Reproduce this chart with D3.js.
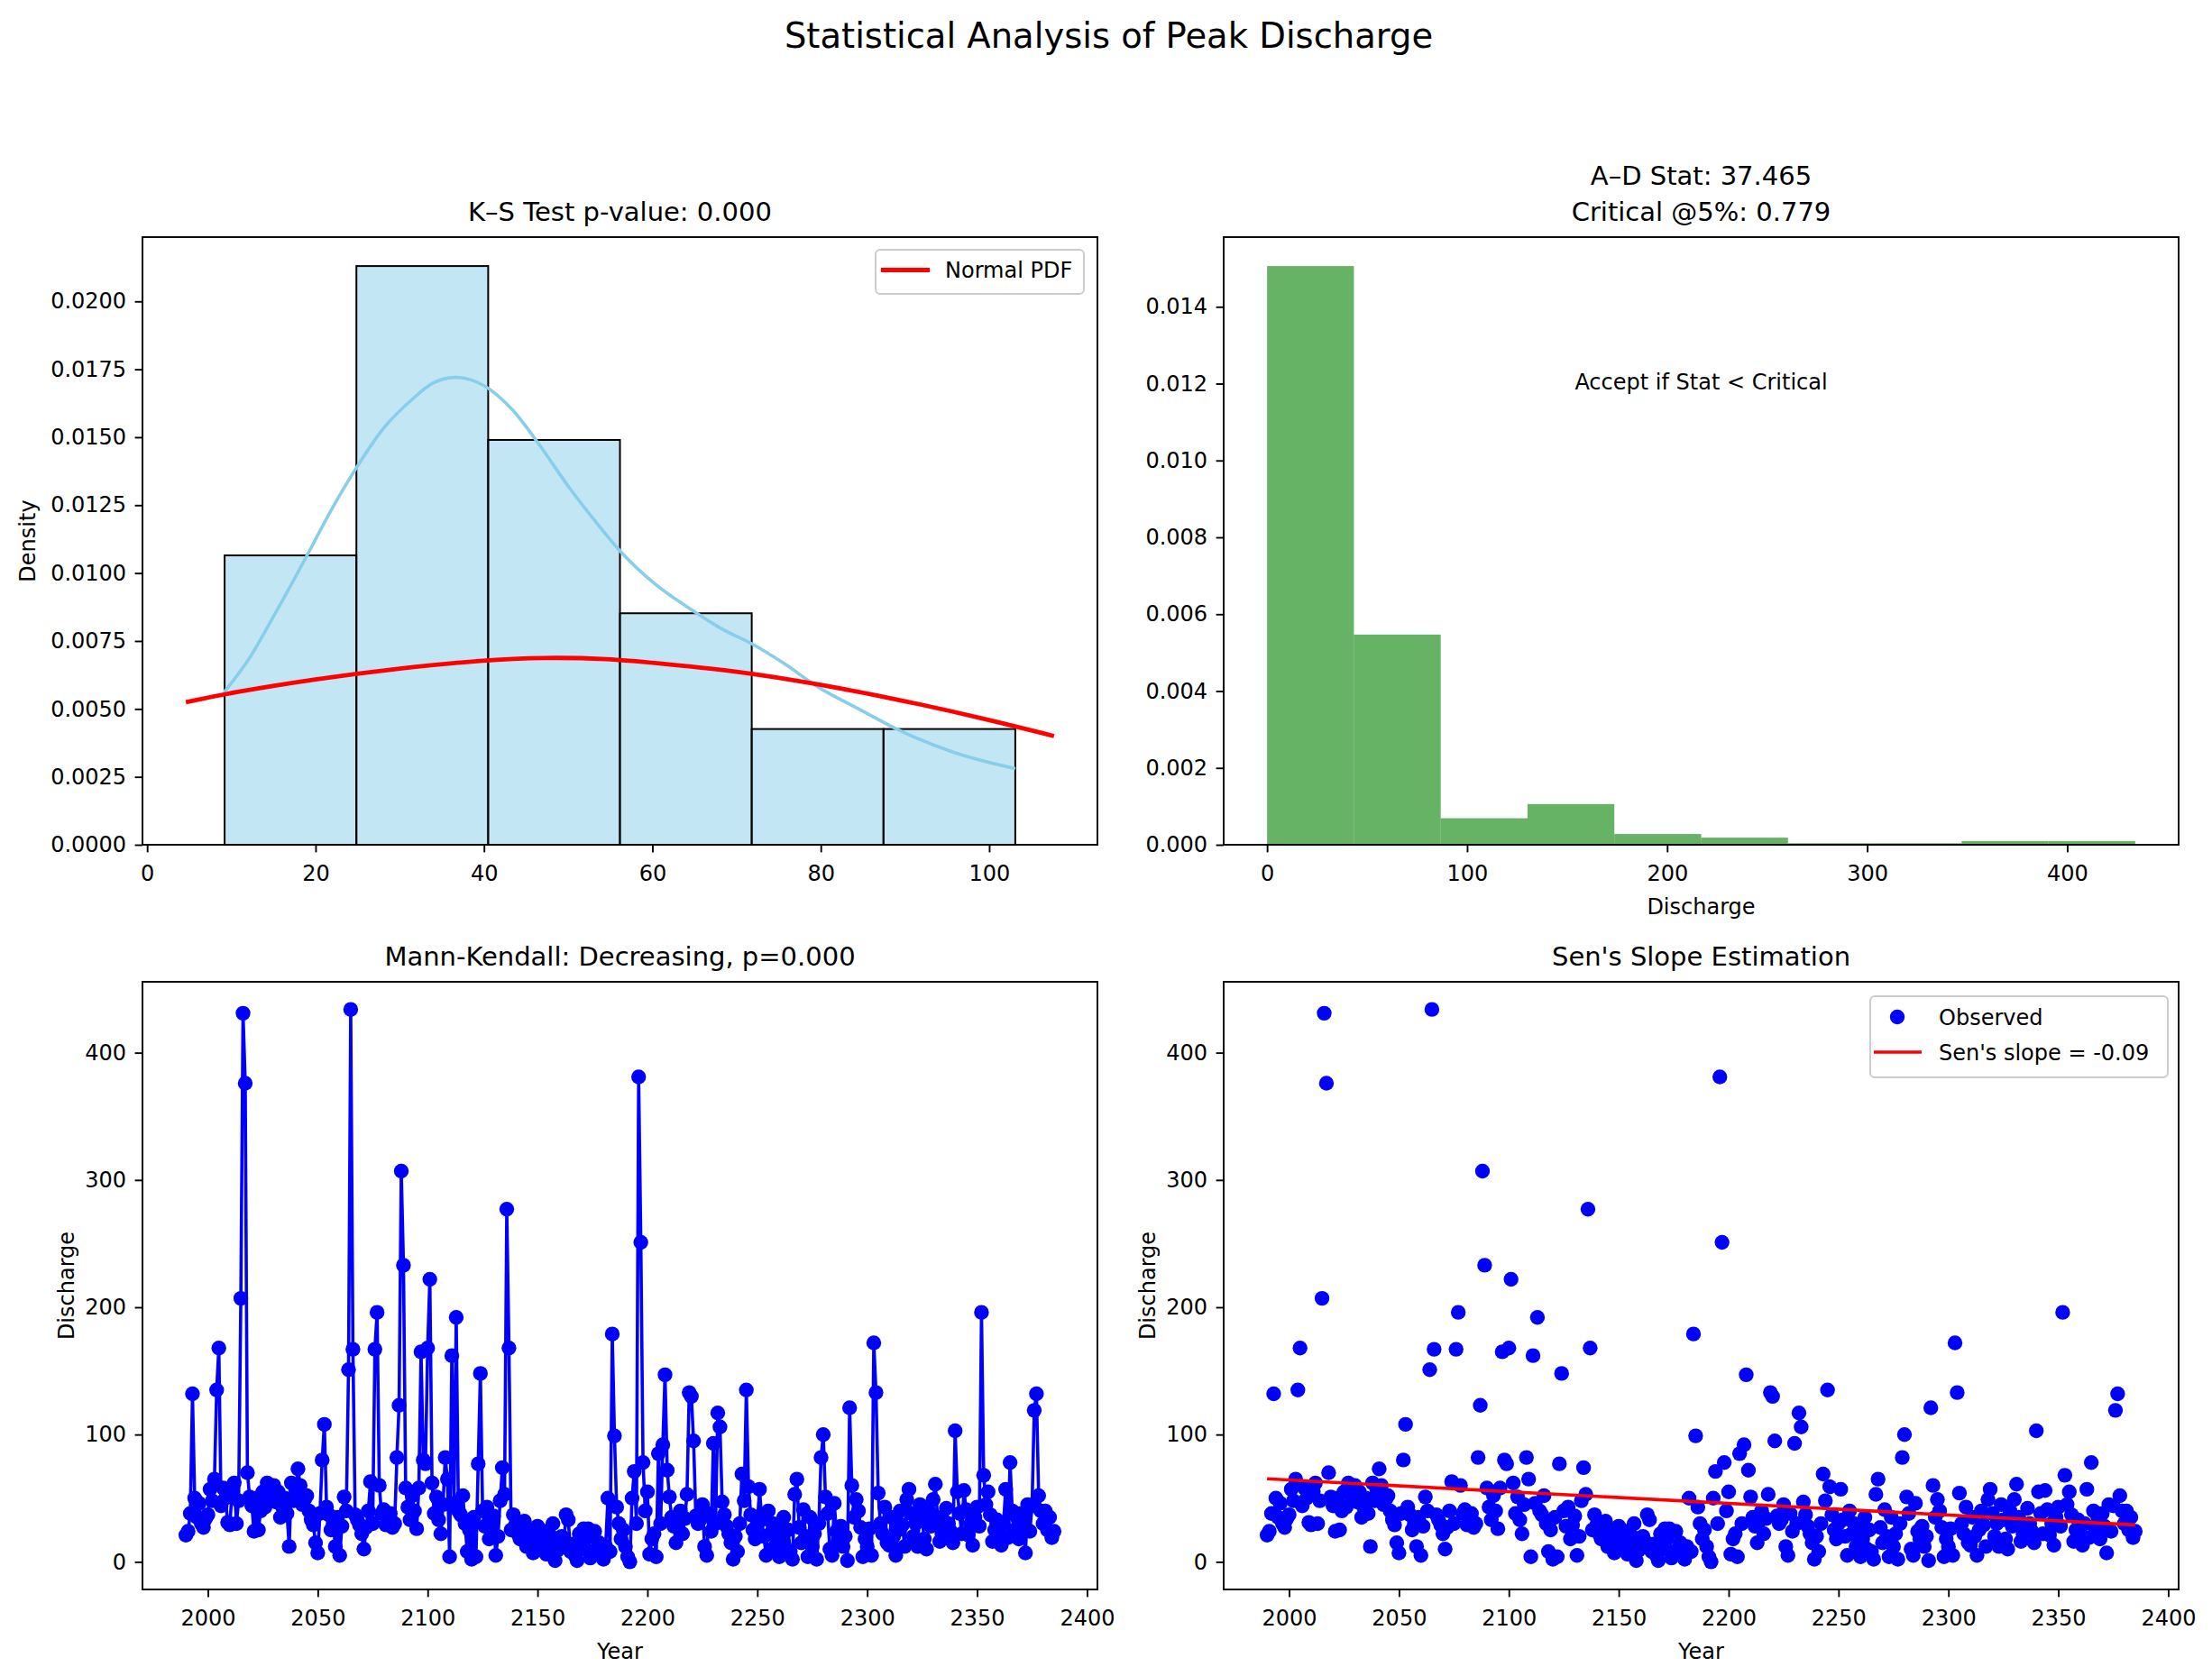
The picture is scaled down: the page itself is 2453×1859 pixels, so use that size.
<!DOCTYPE html>
<html>
<head>
<meta charset="utf-8">
<script src="https://cdn.jsdelivr.net/npm/d3@7"></script>
<style>
body { margin: 0; background: #fff; }
text { font-family: "DejaVu Sans", sans-serif; }
</style>
</head>
<body>
<div id="chart"></div>
<script>
// K-S panel: histogram (density), kde and fitted normal pdf
var ksBinEdges = [9.2, 24.85, 40.5, 56.15, 71.8, 87.45, 103.1];
var ksDensity = [0.01065, 0.0213, 0.0149, 0.00852, 0.00426, 0.00426];
var kdeX = [9.1, 12, 15, 18.9, 22, 24.9, 28, 31.5, 34, 36.6, 40, 43.4, 46.4, 50, 53.5, 56.2, 60.3, 64.9, 68.5, 71.8, 75.5, 79.7, 84.5, 89.4, 95.8, 103.1];
var kdeY = [0.0056, 0.0068, 0.0084, 0.0106, 0.0124, 0.0139, 0.0153, 0.0164, 0.0170, 0.0172, 0.0169, 0.0160, 0.0148, 0.0132, 0.0118, 0.0108, 0.0096, 0.0086, 0.0079, 0.0074, 0.0067, 0.0058, 0.0050, 0.0042, 0.0034, 0.0028];
var normX = [4.6, 10, 20, 30, 40, 47, 55, 60, 70, 80, 90, 100, 107.7];
var normY = [0.00525, 0.0056, 0.0061, 0.0065, 0.0068, 0.0069, 0.00685, 0.0067, 0.0064, 0.0059, 0.0053, 0.0046, 0.0040];

// A-D panel: histogram of all discharge values
var adBinEdges = [0, 43.4, 86.8, 130.2, 173.6, 217, 260.4, 303.8, 347.2, 390.6, 434];
var adDensity = [0.01506, 0.00547, 0.00069, 0.00106, 0.00028, 0.000185, 0.00004, 0.00004, 0.000093, 0.000093];

// yearly peak discharge, 1990 onwards
var startYear = 1990;
var discharge = [
    21, 24, 38, 132, 50, 35, 46, 30, 27, 34,
    37, 57, 48, 65, 135, 168, 44, 58, 50, 31,
    29, 55, 62, 30, 48, 207, 431, 376, 70, 51,
    44, 24, 50, 25, 40, 55, 43, 62, 52, 49,
    60, 47, 55, 35, 43, 50, 38, 12, 62, 48,
    56, 73, 60, 45, 49, 52, 40, 33, 29, 15,
    7, 38, 80, 108, 43, 37, 25, 30, 12, 35,
    5, 28, 51, 40, 151, 434, 167, 37, 33, 29,
    22, 10, 27, 40, 63, 30, 167, 196, 60, 38,
    41, 29, 35, 38, 27, 30, 82, 123, 307, 233,
    58, 43, 33, 52, 40, 26, 58, 165, 80, 77,
    168, 222, 62, 38, 51, 33, 22, 45, 82, 65,
    4, 162, 46, 192, 40, 37, 52, 30, 8, 25,
    2, 35, 4, 77, 148, 40, 28, 43, 18, 29,
    36, 5, 20, 48, 74, 53, 277, 168, 25, 37,
    29, 22, 18, 30, 32, 12, 25, 15, 7, 20,
    28, 18, 10, 24, 6, 14, 20, 30, 1, 9,
    12, 20, 16, 37, 33, 8, 14, 5, 1, 22,
    10, 26, 18, 26, 3, 8, 24, 10, 15, 5,
    2, 12, 50, 8, 179, 99, 43, 30, 18, 25,
    12, 4, 0, 50, 71, 30, 381, 251, 78, 40,
    55, 6, 18, 22, 4, 85, 30, 92, 147, 72,
    51, 35, 28, 15, 32, 40, 22, 34, 53, 133,
    130, 95, 36, 30, 33, 45, 12, 5, 38, 24,
    93, 30, 117, 106, 47, 37, 28, 22, 15, 2,
    20, 8, 30, 69, 48, 135, 59, 37, 25, 18,
    30, 57, 33, 20, 5, 40, 22, 30, 12, 27,
    4, 18, 35, 10, 25, 8, 2, 53, 65, 27,
    15, 41, 20, 4, 35, 12, 22, 2, 30, 82,
    100, 51, 38, 10, 5, 46, 24, 18, 28, 12,
    20, 1, 121, 60, 35, 49, 40, 27, 4, 18,
    12, 26, 5, 172, 133, 54, 30, 22, 43, 15,
    13, 35, 20, 5, 25, 40, 29, 12, 49, 57,
    38, 20, 30, 12, 45, 33, 18, 10, 40, 28,
    49, 61, 35, 16, 22, 27, 42, 30, 24, 15,
    103, 55, 38, 22, 56, 41, 21, 30, 13, 35,
    43, 28, 196, 68, 45, 55, 37, 16, 25, 33,
    22, 13, 30, 57, 19, 78, 40, 25, 35, 18,
    38, 28, 7, 45, 24, 44, 119, 132, 52, 40,
    30, 40, 25, 35, 19, 24
];

// Sen's slope line end points
var senYears = [1990, 2385];
var senValues = [65.2, 29.0];

// tick labels
var ksTicksX = [0, 20, 40, 60, 80, 100];
var ksTicksY = [0, 0.0025, 0.005, 0.0075, 0.01, 0.0125, 0.015, 0.0175, 0.02];
var adTicksX = [0, 100, 200, 300, 400];
var adTicksY = [0, 0.002, 0.004, 0.006, 0.008, 0.010, 0.012, 0.014];
var yearTicks = [2000, 2050, 2100, 2150, 2200, 2250, 2300, 2350, 2400];
var dischargeTicks = [0, 100, 200, 300, 400];

function init(){

    var W = 2453, H = 1859;
    var fontFamily = "DejaVu Sans, sans-serif";
    var dotR = 8.2;

    var svg = d3.select("#chart")
                .append("svg")
                .attr("width", W)
                .attr("height", H)
                .style("background", "#fff");

    var years = discharge.map(function(d, i){ return startYear + i; });
    var series = discharge.map(function(d, i){ return {year: years[i], value: d}; });

    //matplotlib style 5% margins
    function pad(ext){
        var r = ext[1] - ext[0];
        return [ext[0] - 0.05 * r, ext[1] + 0.05 * r];
    }

    function panel(left, top){
        return svg.append("g").attr("transform", "translate(" + left + "," + top + ")");
    }

    function frame(g, w, h){
        g.append("rect")
            .attr("width", w)
            .attr("height", h)
            .attr("fill", "none")
            .attr("stroke", "#000")
            .attr("stroke-width", 1.9);
    }

    function xAxis(g, scale, h, ticks, fmt){
        var ax = g.append("g")
            .attr("transform", "translate(0," + h + ")")
            .call(d3.axisBottom(scale).tickValues(ticks).tickFormat(fmt).tickSize(8.4).tickPadding(14.5));
        ax.select(".domain").remove();
        ax.attr("font-size", 24).attr("font-family", fontFamily);
        ax.selectAll("line").attr("stroke-width", 1.9);
        ax.selectAll("text").attr("fill", "#000");
    }

    function yAxis(g, scale, ticks, fmt){
        var ax = g.append("g")
            .call(d3.axisLeft(scale).tickValues(ticks).tickFormat(fmt).tickSize(8.4).tickPadding(9.5));
        ax.select(".domain").remove();
        ax.attr("font-size", 24).attr("font-family", fontFamily);
        ax.selectAll("line").attr("stroke-width", 1.9);
        ax.selectAll("text").attr("fill", "#000");
    }

    function title(g, w, lines, bottomBaseline){
        lines.forEach(function(t, i){
            g.append("text")
                .attr("x", w / 2)
                .attr("y", bottomBaseline - (lines.length - 1 - i) * 40.5)
                .attr("text-anchor", "middle")
                .attr("font-size", 29)
                .text(t);
        });
    }

    function yLabel(g, h, offset, t){
        g.append("text")
            .attr("transform", "translate(" + (-offset) + "," + (h / 2) + ") rotate(-90)")
            .attr("text-anchor", "middle")
            .attr("dy", "0.36em")
            .attr("font-size", 24)
            .text(t);
    }

    function xLabel(g, w, h, t){
        g.append("text")
            .attr("x", w / 2)
            .attr("y", h + 77)
            .attr("text-anchor", "middle")
            .attr("font-size", 24)
            .text(t);
    }

    // suptitle
    svg.append("text")
        .attr("x", W / 2 + 3)
        .attr("y", 53)
        .attr("text-anchor", "middle")
        .attr("font-size", 38.5)
        .text("Statistical Analysis of Peak Discharge");

    var pw = 1059, ph = 674;

    // ---------- K-S panel ----------
    var g1 = panel(158, 263);
    var x1 = d3.scaleLinear().domain(pad(d3.extent(normX))).range([0, pw]);
    var y1 = d3.scaleLinear().domain([0, d3.max(ksDensity) * 1.05]).range([ph, 0]);

    g1.selectAll("rect.bar")
        .data(ksDensity)
        .enter()
        .append("rect")
        .attr("class", "bar")
        .attr("x", function(d, i){ return x1(ksBinEdges[i]); })
        .attr("y", function(d){ return y1(d); })
        .attr("width", function(d, i){ return x1(ksBinEdges[i + 1]) - x1(ksBinEdges[i]); })
        .attr("height", function(d){ return ph - y1(d); })
        .attr("fill", "skyblue")
        .attr("fill-opacity", 0.5)
        .attr("stroke", "#000")
        .attr("stroke-width", 2);

    var kdeLine = d3.line()
        .x(function(d, i){ return x1(kdeX[i]); })
        .y(function(d){ return y1(d); })
        .curve(d3.curveMonotoneX);
    g1.append("path")
        .attr("d", kdeLine(kdeY))
        .attr("fill", "none")
        .attr("stroke", "skyblue")
        .attr("stroke-width", 3.6);

    var normLine = d3.line()
        .x(function(d, i){ return x1(normX[i]); })
        .y(function(d){ return y1(d); })
        .curve(d3.curveBasis);
    g1.append("path")
        .attr("d", normLine(normY))
        .attr("fill", "none")
        .attr("stroke", "red")
        .attr("stroke-width", 4.8);

    frame(g1, pw, ph);
    xAxis(g1, x1, ph, ksTicksX, d3.format("d"));
    yAxis(g1, y1, ksTicksY, d3.format(".4f"));
    yLabel(g1, ph, 128, "Density");
    title(g1, pw, ["K\u2013S Test p-value: 0.000"], -18);

    // legend
    var l1 = g1.append("g").attr("transform", "translate(" + (pw - 246) + ",14)");
    l1.append("rect")
        .attr("width", 231).attr("height", 49).attr("rx", 5)
        .attr("fill", "#fff").attr("fill-opacity", 0.8)
        .attr("stroke", "#ccc").attr("stroke-width", 2);
    l1.append("line")
        .attr("x1", 6).attr("x2", 60).attr("y1", 22.5).attr("y2", 22.5)
        .attr("stroke", "red").attr("stroke-width", 4.8);
    l1.append("text")
        .attr("x", 77).attr("y", 31)
        .attr("font-size", 24)
        .text("Normal PDF");

    // ---------- A-D panel ----------
    var g2 = panel(1357, 263);
    var x2 = d3.scaleLinear().domain(pad(d3.extent(adBinEdges))).range([0, pw]);
    var y2 = d3.scaleLinear().domain([0, d3.max(adDensity) * 1.05]).range([ph, 0]);

    g2.selectAll("rect.bar")
        .data(adDensity)
        .enter()
        .append("rect")
        .attr("class", "bar")
        .attr("x", function(d, i){ return x2(adBinEdges[i]); })
        .attr("y", function(d){ return y2(d); })
        .attr("width", function(d, i){ return x2(adBinEdges[i + 1]) - x2(adBinEdges[i]); })
        .attr("height", function(d){ return ph - y2(d); })
        .attr("fill", "green")
        .attr("fill-opacity", 0.6);

    frame(g2, pw, ph);
    xAxis(g2, x2, ph, adTicksX, d3.format("d"));
    yAxis(g2, y2, adTicksY, d3.format(".3f"));
    xLabel(g2, pw, ph, "Discharge");
    title(g2, pw, ["A\u2013D Stat: 37.465", "Critical @5%: 0.779"], -18);

    g2.append("text")
        .attr("x", pw / 2)
        .attr("y", 169)
        .attr("text-anchor", "middle")
        .attr("font-size", 24)
        .text("Accept if Stat < Critical");

    // shared scales for the time series panels
    var xYear = pad(d3.extent(years));
    var yVal = pad(d3.extent(discharge));

    // ---------- Mann-Kendall panel ----------
    var g3 = panel(158, 1089);
    var x3 = d3.scaleLinear().domain(xYear).range([0, pw]);
    var y3 = d3.scaleLinear().domain(yVal).range([ph, 0]);

    var tsLine = d3.line()
        .x(function(d){ return x3(d.year); })
        .y(function(d){ return y3(d.value); });
    g3.append("path")
        .attr("d", tsLine(series))
        .attr("fill", "none")
        .attr("stroke", "blue")
        .attr("stroke-width", 3.6)
        .attr("stroke-linejoin", "round");
    g3.selectAll("circle")
        .data(series)
        .enter()
        .append("circle")
        .attr("cx", function(d){ return x3(d.year); })
        .attr("cy", function(d){ return y3(d.value); })
        .attr("r", dotR)
        .attr("fill", "blue");

    frame(g3, pw, ph);
    xAxis(g3, x3, ph, yearTicks, d3.format("d"));
    yAxis(g3, y3, dischargeTicks, d3.format("d"));
    xLabel(g3, pw, ph, "Year");
    yLabel(g3, ph, 85, "Discharge");
    title(g3, pw, ["Mann-Kendall: Decreasing, p=0.000"], -18);

    // ---------- Sen's slope panel ----------
    var g4 = panel(1357, 1089);
    var x4 = d3.scaleLinear().domain(xYear).range([0, pw]);
    var y4 = d3.scaleLinear().domain(yVal).range([ph, 0]);

    g4.selectAll("circle")
        .data(series)
        .enter()
        .append("circle")
        .attr("cx", function(d){ return x4(d.year); })
        .attr("cy", function(d){ return y4(d.value); })
        .attr("r", dotR)
        .attr("fill", "blue");

    var senLine = d3.line()
        .x(function(d, i){ return x4(senYears[i]); })
        .y(function(d){ return y4(d); });
    g4.append("path")
        .attr("d", senLine(senValues))
        .attr("fill", "none")
        .attr("stroke", "red")
        .attr("stroke-width", 3.6);

    frame(g4, pw, ph);
    xAxis(g4, x4, ph, yearTicks, d3.format("d"));
    yAxis(g4, y4, dischargeTicks, d3.format("d"));
    xLabel(g4, pw, ph, "Year");
    yLabel(g4, ph, 85, "Discharge");
    title(g4, pw, ["Sen's Slope Estimation"], -18);

    // legend
    var l4 = g4.append("g").attr("transform", "translate(" + (pw - 342) + ",16)");
    l4.append("rect")
        .attr("width", 330).attr("height", 90).attr("rx", 5)
        .attr("fill", "#fff").attr("fill-opacity", 0.8)
        .attr("stroke", "#ccc").attr("stroke-width", 2);
    l4.append("circle")
        .attr("cx", 30).attr("cy", 23).attr("r", dotR)
        .attr("fill", "blue");
    l4.append("text")
        .attr("x", 76).attr("y", 31.5)
        .attr("font-size", 24)
        .text("Observed");
    l4.append("line")
        .attr("x1", 4).attr("x2", 57).attr("y1", 62).attr("y2", 62)
        .attr("stroke", "red").attr("stroke-width", 3.6);
    l4.append("text")
        .attr("x", 76).attr("y", 70.5)
        .attr("font-size", 24)
        .text("Sen's slope = -0.09");
}
window.onload = init;
</script>
</body>
</html>
